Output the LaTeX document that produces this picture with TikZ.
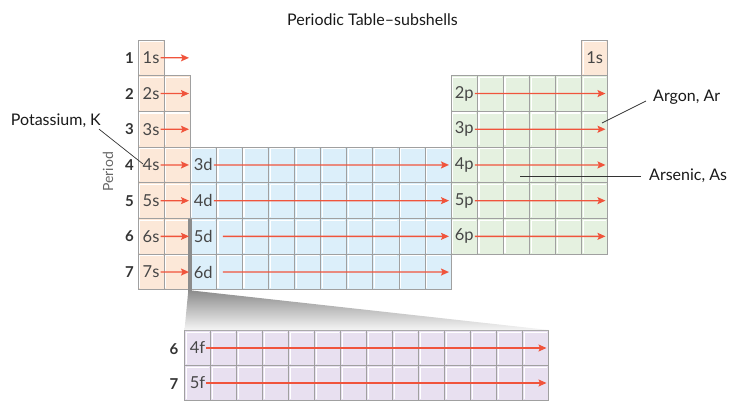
\documentclass[tikz,border=0pt]{standalone}
\usepackage{fontspec}
\newfontfamily\lato{Lato}
\usetikzlibrary{arrows.meta}
\definecolor{speach}{RGB}{252,232,216}
\definecolor{dblue}{RGB}{220,239,250}
\definecolor{pgreen}{RGB}{229,241,224}
\definecolor{fpurple}{RGB}{232,224,240}
\definecolor{cellgray}{RGB}{160,160,160}
\definecolor{arrowred}{RGB}{240,84,60}
\definecolor{txtgray}{RGB}{70,70,70}
\tikzset{
  cellbox/.style={draw=cellgray, line width=0.9pt, minimum width=26.1pt, minimum height=35.7pt,
    inner sep=0pt, outer sep=0pt, anchor=north west,
    path picture={\draw[white, line width=1.2pt]
      ([shift={(1.6pt,1.6pt)}]path picture bounding box.south west) --
      ([shift={(1.6pt,-1.6pt)}]path picture bounding box.north west) --
      ([shift={(-1.6pt,-1.6pt)}]path picture bounding box.north east);}},
  scell/.style={cellbox, fill=speach},
  dcell/.style={cellbox, fill=dblue},
  pcell/.style={cellbox, fill=pgreen},
  fcell/.style={cellbox, minimum width=26pt, minimum height=35pt, fill=fpurple},
  sublabel/.style={font=\lato\fontsize{16.5}{16.5}\selectfont, text=txtgray, inner sep=1pt},
  rownum/.style={font=\lato\bfseries\fontsize{15}{15}\selectfont, text=black!80, inner sep=0pt},
  orb/.style={draw=arrowred, line width=1.3pt, -{Stealth[length=8pt,width=7pt,inset=1.5pt]}},
  leader/.style={draw=black!80, line width=0.7pt},
  callout/.style={font=\lato\fontsize{16}{16}\selectfont, text=black!90, inner sep=1pt},
}
\begin{document}
\begin{tikzpicture}[x=1pt,y=-1pt]
\useasboundingbox (0,0) rectangle (740,412);
% ---- cells ----
\node[scell] (c1-1) at (138,40) {};
\node[scell] (c1-18) at ({138+26.1*17},40) {};
\foreach \r in {2,...,7}
  \foreach \c in {1,2}
    \node[scell] (c\r-\c) at ({138+26.1*(\c-1)},{40+35.7*(\r-1)}) {};
\foreach \r in {4,...,7}
  \foreach \c in {3,...,12}
    \node[dcell] (c\r-\c) at ({138+26.1*(\c-1)},{40+35.7*(\r-1)}) {};
\foreach \r in {2,...,6}
  \foreach \c in {13,...,18}
    \node[pcell] (c\r-\c) at ({138+26.1*(\c-1)},{40+35.7*(\r-1)}) {};
\foreach \r in {1,2}
  \foreach \c in {1,...,14}
    \node[fcell] (f\r-\c) at ({184.5+26*(\c-1)},{330.5+35*(\r-1)}) {};
% ---- f-block insertion marker ----
\fill[black!45] (188.3,218.5) rectangle (191.6,290.5);
\shade[top color=black!45, bottom color=black!4]
  (188.3,290.5) -- (191.6,290.5) -- (548.5,330) -- (184.5,330) -- cycle;
% ---- title and axis ----
\node[font=\lato\fontsize{16}{16}\selectfont, text=black!90] (title) at (372.5,20) {Periodic Table–subshells};
\node[font=\lato\fontsize{14}{14}\selectfont, text=black!60, rotate=90] (period) at (108,172) {Period};
\foreach \r/\y in {1/57.85,2/93.55,3/129.25,4/164.95,5/200.65,6/236.35,7/272.05}
  \node[rownum] (n\r) at (129.5,\y) {\r};
\node[rownum] (nf6) at (174,349) {6};
\node[rownum] (nf7) at (174,384) {7};
% ---- subshell labels ----
\foreach \r in {1,...,7}
  \node[sublabel] (l\r s) at (c\r-1) {\r s};
\node[sublabel] (he) at (c1-18) {1s};
\foreach \r/\n in {4/3,5/4,6/5,7/6}
  \node[sublabel] (l\n d) at (c\r-3) {\n d};
\foreach \r/\n in {2/2,3/3,4/4,5/5,6/6}
  \node[sublabel] (l\n p) at (c\r-13) {\n p};
\node[sublabel] (l4f) at (f1-1) {4f};
\node[sublabel] (l5f) at (f2-1) {5f};
% ---- arrow end points ----
\foreach \r/\y in {1/57.85,2/93.55,3/129.25,4/164.95,5/200.65,6/236.35,7/272.05}
  \coordinate (e\r s) at (189,\y);
\foreach \n/\y in {3/164.95,4/200.65,5/236.35,6/272.05}
  \coordinate (e\n d) at (449,\y);
\foreach \n/\y in {2/93.55,3/129.25,4/164.95,5/200.65,6/236.35}
  \coordinate (e\n p) at (605.5,\y);
\coordinate (e4f) at (546.5,348);
\coordinate (e5f) at (546.5,383);
% ---- arrows ----
\foreach \r in {1,...,7}
  \draw[orb] (l\r s) -- (e\r s);
\draw[orb] (l3d) -- (e3d);
\draw[orb] (l4d) -- (e4d);
\draw[orb, shorten <=9pt] (l5d) -- (e5d);
\draw[orb, shorten <=9pt] (l6d) -- (e6d);
\foreach \n in {2,...,6}
  \draw[orb] (l\n p) -- (e\n p);
\draw[orb] (l4f) -- (e4f);
\draw[orb] (l5f) -- (e5f);
% ---- callouts ----
\node[callout, anchor=east] (K) at (102,121) {Potassium, K};
\coordinate (kpt) at (143,164);
\draw[leader] ([xshift=-3pt]K.south east) -- (kpt);
\node[callout, anchor=west] (Ar) at (652,97) {Argon, Ar};
\coordinate (arpt) at (602,123);
\draw[leader] ([xshift=-6pt,yshift=-4pt]Ar.west) -- (arpt);
\node[callout, anchor=west] (As) at (648,176) {Arsenic, As};
\coordinate (aspt) at (520,176);
\draw[leader] ([xshift=-7pt]As.west) -- (aspt);
\end{tikzpicture}
\end{document}
